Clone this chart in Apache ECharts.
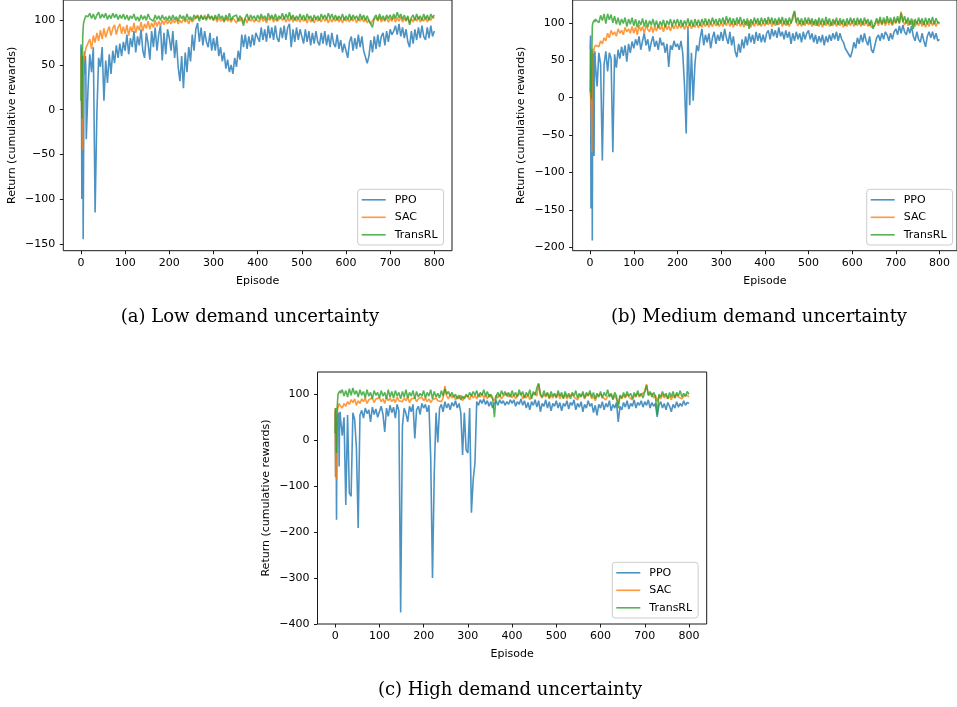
<!DOCTYPE html>
<html><head><meta charset="utf-8">
<script src="https://cdn.jsdelivr.net/npm/echarts@6/dist/echarts.min.js"></script>
<style>html,body{margin:0;padding:0;background:#fff}#c{width:957px;height:707px}</style>
</head><body><div id="c"></div>
<script>
// x positions: every episode for 0..12, then every 4th episode up to 800
const episodes = [];
for (let e = 0; e <= 12; e++) episodes.push(e);
for (let e = 16; e <= 800; e += 4) episodes.push(e);

const seriesNames = ['PPO', 'SAC', 'TransRL'];
const xTicks = [0, 100, 200, 300, 400, 500, 600, 700, 800];
const yTicksLow = [-150, -100, -50, 0, 50, 100];
const yTicksMed = [-200, -150, -100, -50, 0, 50, 100];
const yTicksHigh = [-400, -300, -200, -100, 0, 100];
const panelTitles = ['(a) Low demand uncertainty', '(b) Medium demand uncertainty', '(c) High demand uncertainty'];
const xName = 'Episode';
const yName = 'Return (cumulative rewards)';

// ---------- (a) Low demand uncertainty ----------
const ppoLow = [
 73, 40, -100, 60, 30, -145, -45, 55, 65, 40, 60, 45, -33,
 24, 62, 42, 70, -115, -4, 58, 48, 70, 10, 55, 30, 62, 40, 66, 52, 72, 58, 74, 60, 76,
 66, 84, 62, 80, 70, 88, 64, 82, 72, 90, 66, 58, 86, 74, 56, 88, 70, 92, 66, 84, 94, 55, 86, 62, 90,
 80, 66, 88, 58, 78, 48, 32, 60, 24, 64, 42, 70, 54, 84, 66, 90, 97, 76, 92, 72, 88, 76, 70, 86, 66,
 80, 66, 82, 60, 70, 54, 64, 46, 56, 42, 50, 40, 58, 48, 66, 56, 84, 70, 84, 68, 82, 70, 84, 72, 86,
 88, 76, 92, 78, 90, 76, 94, 80, 92, 78, 94, 80, 76, 92, 80, 94, 78, 92, 96, 70, 90, 76, 92, 78, 90,
 88, 74, 90, 76, 88, 72, 86, 74, 88, 76, 72, 86, 74, 88, 72, 84, 70, 86, 74, 70, 84, 68, 78, 64, 74,
 66, 58, 76, 82, 66, 80, 68, 84, 70, 82, 66, 64, 52, 60, 78, 64, 82, 68, 84, 70, 82, 86, 72, 88, 76,
 90, 84, 88, 94, 84, 96, 82, 92, 80, 90, 76, 70, 88, 74, 90, 78, 92, 80, 94, 82, 78, 92, 80, 94, 82,
 88
];
const sacLow = [
 60, 20, -10, 10, -45, 50, 58, 55, 62, 60, 66, 64, 70,
 70, 79, 68, 83, 75, 86, 77, 89, 79, 91, 81, 88, 93, 83, 91, 95, 84, 92, 96, 85, 93,
 85, 95, 83, 93, 87, 97, 86, 94, 89, 98, 88, 96, 91, 99, 90, 97, 92, 100, 93, 99, 94, 100, 95, 101, 96,
 100, 96, 101, 97, 102, 96, 100, 97, 102, 98, 101, 96, 102, 98, 101, 103, 106, 102, 105, 101, 106, 102, 105, 101, 104,
 100, 104, 98, 103, 99, 102, 98, 103, 99, 102, 98, 103, 100, 97, 102, 99, 103, 98, 102, 97, 103, 99, 102, 98, 101,
 103, 98, 104, 99, 102, 97, 103, 100, 104, 98, 102, 99, 97, 103, 100, 104, 98, 102, 99, 105, 98, 103, 99, 102, 98,
 103, 99, 102, 97, 104, 98, 102, 97, 103, 99, 102, 98, 104, 99, 102, 97, 103, 98, 102, 99, 104, 98, 102, 97, 103,
 99, 102, 98, 104, 99, 103, 97, 102, 99, 104, 98, 102, 97, 101, 96, 100, 98, 103, 99, 104, 98, 102, 99, 103, 98,
 102, 99, 104, 98, 103, 99, 104, 98, 102, 99, 103, 97, 102, 98, 103, 99, 104, 98, 102, 99, 104, 98, 103, 100, 104,
 102
];
const transLow = [
 10, 70, -10, 55, 80, 92, 97, 99, 101, 103, 102, 105, 103,
 104, 108, 102, 107, 101, 106, 109, 102, 107, 103, 108, 101, 106, 102, 108, 103, 107, 101, 106, 102, 107,
 101, 106, 100, 105, 102, 107, 100, 104, 99, 106, 101, 105, 100, 107, 102, 104, 99, 106, 101, 105, 100, 106, 101, 104, 100,
 105, 100, 106, 101, 104, 99, 106, 102, 105, 100, 107, 101, 104, 100, 106, 102, 105, 99, 106, 101, 104, 100, 107, 102, 105,
 100, 106, 101, 107, 102, 105, 99, 106, 101, 108, 100, 104, 102, 106, 99, 105, 101, 94, 103, 107, 100, 106, 102, 105, 100,
 106, 101, 107, 102, 105, 100, 108, 102, 106, 101, 107, 100, 105, 102, 108, 101, 107, 102, 109, 101, 106, 100, 105, 101, 107,
 101, 106, 100, 107, 102, 105, 99, 106, 101, 105, 100, 107, 102, 106, 101, 108, 102, 107, 101, 106, 100, 105, 101, 107, 100,
 105, 101, 107, 100, 106, 102, 105, 100, 107, 101, 106, 100, 105, 99, 96, 92, 103, 106, 100, 107, 101, 105, 100, 106, 102,
 106, 101, 107, 102, 109, 103, 107, 101, 106, 100, 105, 95, 103, 106, 100, 107, 101, 105, 100, 107, 101, 106, 100, 107, 103,
 106
];

// ---------- (b) Medium demand uncertainty ----------
const ppoMed = [
 65, 83, -148, 40, 10, -191, 50, 60, 30, -78, 55, 62, 45,
 15, 60, 45, -84, 45, 62, 35, 60, 52, -73, 58, 40, 64, 52, 68, 56, 70, 48, 72, 60, 75,
 66, 78, 70, 82, 64, 76, 86, 70, 78, 62, 74, 82, 68, 76, 64, 80, 70, 74, 60, 72, 41, 70, 64, 76, 68,
 72, 64, 76, 60, 18, -48, 94, -10, 60, -4, 45, 70, 62, 80, 92, 70, 84, 74, 86, 66, 80, 88, 72, 84, 76,
 88, 76, 92, 80, 72, 88, 70, 82, 62, 54, 72, 60, 78, 66, 82, 70, 86, 74, 84, 72, 88, 76, 86, 74, 84,
 74, 86, 90, 78, 92, 82, 90, 80, 94, 82, 88, 78, 90, 80, 88, 72, 86, 76, 88, 78, 86, 74, 88, 78, 86,
 90, 78, 86, 74, 84, 72, 82, 74, 84, 70, 82, 74, 84, 76, 86, 78, 88, 76, 86, 78, 74, 66, 64, 58, 54,
 62, 74, 66, 80, 72, 84, 74, 86, 76, 70, 82, 64, 60, 62, 80, 84, 76, 86, 78, 88, 84, 76, 86, 78, 88,
 92, 84, 96, 86, 97, 88, 84, 94, 86, 96, 82, 76, 88, 78, 74, 86, 76, 68, 82, 88, 80, 88, 78, 86, 76,
 78
];
const sacMed = [
 8, 10, -2, -20, -73, 40, 62, 65, 60, 66, 68, 64, 70,
 72, 68, 76, 72, 80, 76, 86, 80, 90, 84, 88, 82, 92, 86, 90, 84, 94, 88, 92, 86, 95,
 86, 94, 84, 97, 89, 95, 86, 97, 91, 88, 96, 87, 95, 89, 97, 91, 96, 88, 98, 91, 96, 89, 97, 92, 98,
 92, 98, 93, 99, 91, 97, 93, 99, 92, 98, 94, 100, 93, 99, 94, 100, 95, 101, 94, 100, 95, 101, 96, 100, 95,
 101, 95, 102, 96, 103, 95, 101, 94, 102, 96, 103, 95, 101, 94, 102, 96, 103, 94, 101, 95, 103, 96, 102, 95, 101,
 96, 103, 97, 104, 95, 102, 96, 103, 97, 104, 95, 102, 96, 103, 95, 101, 104, 115, 101, 96, 103, 95, 102, 96, 103,
 97, 104, 95, 102, 96, 103, 95, 101, 94, 102, 96, 103, 95, 101, 96, 103, 95, 102, 96, 103, 94, 101, 95, 102, 96,
 103, 95, 102, 96, 104, 95, 102, 96, 103, 95, 101, 94, 92, 97, 103, 96, 104, 97, 103, 96, 104, 97, 103, 96, 104,
 99, 105, 100, 115, 103, 97, 104, 96, 103, 97, 104, 95, 102, 96, 103, 95, 102, 94, 101, 95, 103, 96, 102, 95, 101,
 98
];
const transMed = [
 8, 65, 30, -2, 60, 95, 100, 98, 102, 100, 104, 101, 105,
 106, 100, 110, 103, 112, 99, 112, 104, 111, 100, 109, 98, 107, 97, 105, 99, 107, 95, 105, 98, 107,
 96, 105, 94, 103, 97, 106, 95, 104, 94, 103, 97, 105, 95, 103, 93, 102, 96, 104, 94, 103, 97, 105, 95, 104, 98,
 105, 96, 104, 95, 103, 97, 106, 96, 104, 95, 105, 97, 104, 96, 105, 98, 106, 97, 105, 98, 107, 99, 105, 97, 106,
 99, 107, 98, 109, 100, 107, 98, 106, 97, 107, 99, 108, 98, 105, 97, 106, 92, 105, 98, 107, 99, 106, 97, 107, 99,
 106, 98, 108, 99, 107, 98, 106, 97, 107, 99, 108, 98, 106, 97, 107, 99, 109, 116, 100, 107, 98, 106, 97, 107, 99,
 107, 98, 106, 97, 105, 96, 107, 98, 106, 97, 108, 98, 106, 96, 105, 98, 107, 97, 106, 98, 105, 96, 106, 98, 107,
 99, 106, 97, 107, 98, 106, 97, 107, 99, 105, 96, 104, 92, 99, 106, 99, 108, 98, 107, 99, 109, 100, 107, 98, 108,
 100, 109, 99, 113, 101, 109, 99, 107, 97, 106, 92, 105, 98, 107, 99, 106, 97, 107, 98, 106, 99, 108, 98, 106, 100,
 101
];

// ---------- (c) High demand uncertainty ----------
const ppoHigh = [
 65, -80, 40, -173, 20, 55, 40, 60, 45, -57, 50, 62, 48,
 10, 50, -141, 55, -115, -122, 60, 45, -17, -191, 55, 65, 48, 70, 58, 66, 40, 72, 56, 68, 50,
 62, 74, 56, 18, 70, 52, 76, 60, 72, 48, 78, 64, -375, 30, 70, 58, 40, 74, 62, 78, 4, 66, 74, 56, 80,
 70, 78, 62, 76, -39, -300, -73, 60, -5, 70, 78, 62, 84, 70, 80, 66, 82, 74, 86, 70, 80, 60, -32, 60, -21,
 -28, 70, -158, -86, -50, 84, 76, 88, 80, 90, 78, 86, 74, 84, 70, 80, 86, 76, 88, 80, 86, 76, 84, 78, 88,
 80, 88, 74, 84, 78, 90, 76, 86, 70, 82, 66, 84, 76, 88, 72, 86, 62, 80, 74, 88, 70, 84, 64, 80, 74,
 86, 70, 82, 64, 80, 74, 86, 68, 82, 76, 88, 66, 80, 72, 84, 62, 78, 70, 86, 74, 80, 60, 76, 54, 78,
 70, 84, 66, 80, 72, 86, 64, 78, 70, 82, 40, 74, 66, 82, 72, 86, 68, 80, 74, 88, 70, 82, 76, 86, 72,
 84, 76, 88, 70, 82, 74, 80, 51, 76, 84, 70, 80, 66, 82, 74, 62, 78, 70, 84, 72, 80, 74, 86, 76, 82,
 80
];
const sacHigh = [
 70, -80, 20, -85, 30, 60, 75, 70, 80, 76, 82, 78, 84,
 70, 80, 74, 84, 78, 88, 82, 90, 76, 86, 80, 90, 84, 92, 80, 88, 84, 92, 82, 90, 86,
 92, 84, 90, 80, 94, 86, 92, 84, 90, 82, 94, 86, 90, 84, 92, 86, 94, 82, 90, 86, 92, 84, 90, 88, 94,
 86, 92, 84, 90, 82, 88, 84, 92, 86, 90, 84, 92, 118, 96, 90, 100, 92, 98, 88, 96, 90, 98, 86, 94, 90,
 96, 88, 100, 92, 98, 90, 100, 94, 102, 92, 98, 90, 100, 94, 96, 86, 98, 92, 100, 90, 96, 92, 102, 94, 100,
 92, 100, 90, 98, 94, 102, 90, 98, 92, 100, 88, 96, 94, 104, 96, 122, 98, 92, 100, 94, 102, 90, 98, 92, 100,
 94, 102, 90, 98, 92, 100, 90, 96, 92, 100, 94, 98, 88, 96, 92, 100, 90, 98, 94, 102, 90, 96, 86, 96, 92,
 100, 94, 98, 88, 96, 92, 100, 90, 98, 94, 80, 96, 90, 98, 92, 100, 94, 98, 88, 96, 92, 102, 94, 100, 96,
 106, 122, 98, 94, 102, 92, 98, 84, 96, 90, 100, 92, 98, 90, 96, 88, 98, 92, 100, 94, 98, 90, 96, 92, 98,
 94
];
const transHigh = [
 15, 70, 40, -28, 60, 80, 95, 102, 98, 106, 100, 108, 102,
 110, 96, 108, 94, 112, 98, 114, 100, 108, 94, 110, 98, 106, 92, 110, 96, 104, 90, 108, 98, 104,
 92, 108, 96, 104, 90, 110, 94, 106, 92, 108, 96, 104, 90, 106, 94, 110, 92, 104, 96, 108, 90, 106, 94, 102, 96,
 108, 92, 104, 96, 110, 90, 106, 94, 102, 92, 108, 96, 112, 100, 106, 96, 104, 94, 100, 90, 98, 88, 96, 90, 100,
 94, 104, 96, 106, 98, 108, 94, 104, 98, 110, 96, 106, 94, 100, 92, 50, 96, 104, 94, 108, 98, 106, 96, 104, 94,
 108, 96, 104, 94, 110, 98, 106, 92, 104, 96, 110, 90, 106, 98, 114, 124, 100, 94, 108, 96, 104, 92, 106, 96, 102,
 92, 108, 96, 104, 90, 106, 94, 102, 90, 104, 96, 108, 92, 102, 94, 106, 92, 104, 96, 108, 94, 104, 90, 102, 94,
 106, 92, 104, 96, 110, 94, 102, 88, 104, 96, 70, 98, 92, 104, 94, 106, 96, 102, 90, 104, 94, 108, 96, 102, 92,
 106, 120, 98, 106, 94, 104, 96, 55, 100, 94, 106, 96, 102, 90, 104, 94, 106, 92, 104, 96, 108, 94, 102, 96, 106,
 100
];

const colors = ['#1f77b4', '#ff7f0e', '#2ca02c'];
const panels = [
  { grid: { left: 63.3, top: -1.75, width: 388.7, height: 252.45 }, yMin: -157.75, yMax: 122.75, yTicks: yTicksLow,
    data: [ppoLow, sacLow, transLow], legend: { left: 357.7, top: 189.3 }, title: [250, 317] },
  { grid: { left: 572.65, top: -0.55, width: 388.4, height: 251.25 }, yMin: -204.5, yMax: 130.5, yTicks: yTicksMed,
    data: [ppoMed, sacMed, transMed], legend: { left: 866.7, top: 189.3 }, title: [759, 317] },
  { grid: { left: 317.5, top: 372, width: 389.2, height: 252 }, yMin: -400, yMax: 148.5, yTicks: yTicksHigh,
    data: [ppoHigh, sacHigh, transHigh], legend: { left: 612.3, top: 562.3 }, title: [510, 690] }
];

panels.forEach(p => p.data.forEach(arr => {
  if (arr.length !== episodes.length) throw new Error('length mismatch ' + arr.length + ' vs ' + episodes.length);
}));

const fmt = v => String(v).replace('-', '\u2212');
const axisColor = '#1a1a1a';
const font = 'DejaVu Sans';

const option = {
  animation: false,
  backgroundColor: '#ffffff',
  grid: [], xAxis: [], yAxis: [], series: [], legend: [], graphic: []
};

panels.forEach((p, i) => {
  option.grid.push(Object.assign({ show: true, borderColor: axisColor, borderWidth: 1, backgroundColor: 'transparent', containLabel: false }, p.grid));
  option.xAxis.push({
    type: 'value', gridIndex: i, min: -40, max: 840,
    name: xName, nameLocation: 'middle', nameGap: 24.5,
    nameTextStyle: { fontSize: 11, color: '#000', fontFamily: font },
    axisLine: { show: false, onZero: false },
    axisTick: { show: true, inside: false, length: 3.5, lineStyle: { color: axisColor, width: 1 }, customValues: xTicks },
    axisLabel: { show: true, margin: 7, fontSize: 11, color: '#000', fontFamily: font, formatter: fmt, customValues: xTicks },
    splitLine: { show: false }
  });
  option.yAxis.push({
    type: 'value', gridIndex: i, min: p.yMin, max: p.yMax,
    name: yName, nameLocation: 'middle', nameGap: 46,
    nameTextStyle: { fontSize: 11, color: '#000', fontFamily: font },
    axisLine: { show: false, onZero: false },
    axisTick: { show: true, inside: false, length: 3.5, lineStyle: { color: axisColor, width: 1 }, customValues: p.yTicks },
    axisLabel: { show: true, margin: 8, fontSize: 11, color: '#000', fontFamily: font, formatter: fmt, customValues: p.yTicks },
    splitLine: { show: false }
  });
  p.data.forEach((arr, k) => {
    option.series.push({
      type: 'line', name: seriesNames[k], xAxisIndex: i, yAxisIndex: i,
      data: arr.map((v, j) => [episodes[j], v]),
      symbol: 'none', showSymbol: false, smooth: false,
      lineStyle: { color: colors[k], width: 1.6, opacity: 0.8 },
      itemStyle: { color: colors[k], opacity: 0.8 },
      emphasis: { disabled: true }, silent: true, z: 2 + k
    });
  });
  option.legend.push({
    orient: 'vertical', left: p.legend.left, top: p.legend.top,
    data: seriesNames, icon: 'rect', itemWidth: 24, itemHeight: 1.6, itemGap: 6.5,
    itemStyle: { opacity: 0.8 },
    padding: [5, 6, 4.7, 4],
    backgroundColor: 'rgba(255,255,255,0.8)', borderColor: '#cccccc', borderWidth: 1, borderRadius: 3,
    textStyle: { fontSize: 11, color: '#000', fontFamily: font, padding: [0, 0, 0, 4] },
    selectedMode: false
  });
  option.graphic.push({
    type: 'text', x: p.title[0], y: p.title[1],
    style: { text: panelTitles[i], fontSize: 18, fontFamily: 'DejaVu Serif', fill: '#000', textAlign: 'center', textVerticalAlign: 'middle' }
  });
});

const chart = echarts.init(document.getElementById('c'), null, { renderer: 'canvas' });
chart.setOption(option);
</script>
</body></html>
